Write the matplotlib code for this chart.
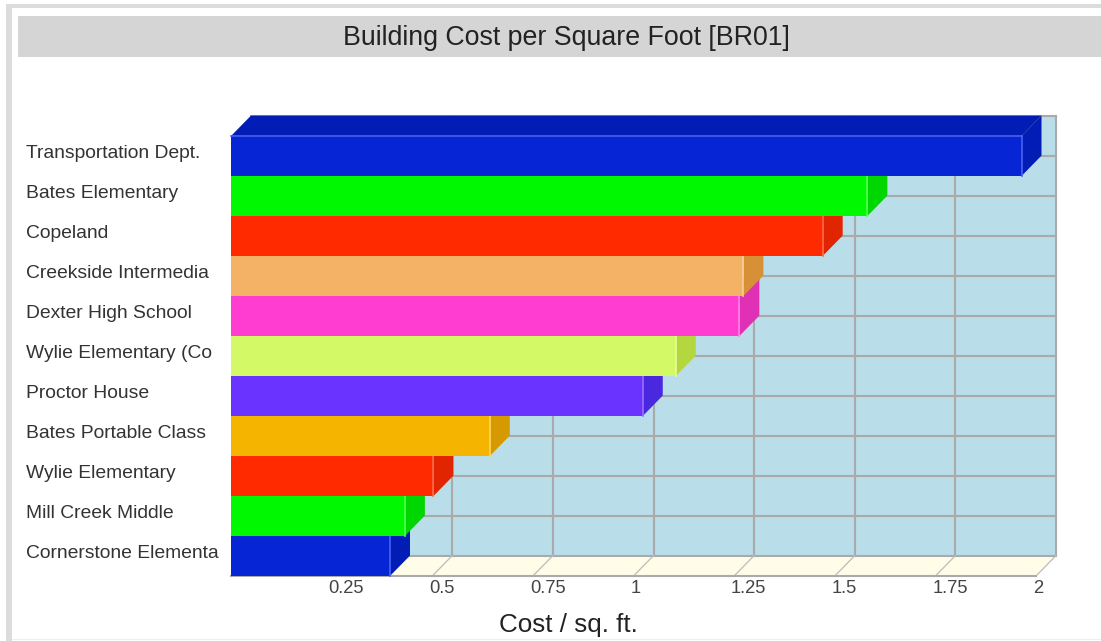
import matplotlib
matplotlib.use("Agg")
import matplotlib.pyplot as plt
from matplotlib.patches import Polygon, Rectangle

plt.rcParams["font.family"] = ["Liberation Sans", "DejaVu Sans"]

W, H = 1101, 641

labels = ["Transportation Dept.", "Bates Elementary", "Copeland", "Creekside Intermedia",
          "Dexter High School", "Wylie Elementary (Co", "Proctor House", "Bates Portable Class",
          "Wylie Elementary", "Mill Creek Middle", "Cornerstone Elementa"]
values = [1.964, 1.581, 1.47, 1.273, 1.263, 1.105, 1.023, 0.643, 0.503, 0.432, 0.395]
front_colors = ["#0626d6", "#00f900", "#ff2a00", "#f4b266", "#ff3dd0", "#d3f966",
                "#6a33ff", "#f5b400", "#ff2a00", "#00f900", "#0626d6"]
side_colors = ["#021db5", "#00d600", "#e02500", "#d69035", "#e030b5", "#b4d63f",
               "#4a28e0", "#d69a00", "#e02500", "#00d600", "#021db5"]
edge_colors = ["#4a62ee", "#55ff55", "#ff6a4a", "#f9d09a", "#ff80e2", "#e6ff9a",
               "#9a70ff", "#ffd860", "#ff6a4a", "#55ff55", "#4a62ee"]
xticks = [0.25, 0.5, 0.75, 1, 1.25, 1.5, 1.75, 2]
xticklabels = ["0.25", "0.5", "0.75", "1", "1.25", "1.5", "1.75", "2"]

fig = plt.figure(figsize=(W / 100, H / 100), dpi=100, facecolor="white")


def px_rect(x0, y0, x1, y1, color):
    # rectangle given in image pixels, y going down
    fig.add_artist(Rectangle((x0 / W, 1 - y1 / H), (x1 - x0) / W, (y1 - y0) / H,
                             transform=fig.transFigure, color=color, lw=0))


# page frame and title band
px_rect(6, 4, 1101, 8, "#dcdcdc")
px_rect(6, 4, 12, 641, "#dcdcdc")
px_rect(12, 639, 1101, 640, "#eeeeee")
px_rect(18, 16, 1101, 57, "#d5d5d5")
fig.text(566.5 / W, 1 - 38 / H, "Building Cost per Square Foot [BR01]", ha="center", va="center",
         fontsize=19.3, color="#222222")

ax = fig.add_axes([231 / W, 1 - 576 / H, 805 / W, 440 / H])
ax.set_xlim(0, 2)
ax.set_ylim(len(values), 0)
ax.axis("off")

dx = 20 / 402.5  # depth of the 3d effect in x units
dy = 0.51        # and in rows
n = len(values)
grid = "#aaaaaa"

# back wall and floor
ax.add_patch(Polygon([(dx, -dy), (2 + dx, -dy), (2 + dx, n - dy), (dx, n - dy)],
                     fc="#b9dde9", ec="none", clip_on=False, zorder=1))
ax.add_patch(Polygon([(0, n), (2, n), (2 + dx, n - dy), (dx, n - dy)],
                     fc="#fffde8", ec="none", clip_on=False, zorder=1))

for i in range(n + 1):
    ax.plot([dx, 2 + dx], [i - dy, i - dy], color=grid, lw=1.5, clip_on=False, zorder=2)
for t in xticks:
    ax.plot([t + dx, t + dx], [-dy, n - dy], color=grid, lw=1.5, clip_on=False, zorder=2)
    ax.plot([t, t + dx], [n, n - dy], color="#bbbbbb", lw=0.9, clip_on=False, zorder=2)
ax.plot([0, 2], [n, n], color=grid, lw=1.5, clip_on=False, zorder=2)

# bars, bottom row first so upper bars cover the depth of the lower ones
for i in range(n - 1, -1, -1):
    v = values[i]
    z = 3 + (n - i)
    ax.add_patch(Polygon([(0, i), (dx, i - dy), (v + dx, i - dy), (v, i)],
                         fc=side_colors[i], ec="none", clip_on=False, zorder=z))
    ax.add_patch(Polygon([(v, i), (v + dx, i - dy), (v + dx, i + 1 - dy), (v, i + 1)],
                         fc=side_colors[i], ec="none", clip_on=False, zorder=z))
    ax.barh(i + 0.5, v, height=1, color=front_colors[i], edgecolor="none", clip_on=False, zorder=z)
    ax.plot([v, v], [i, i + 1], color=edge_colors[i], lw=1.2, clip_on=False, zorder=z)
    if i == 0:
        ax.plot([0, v], [i, i], color=edge_colors[i], lw=1.2, clip_on=False, zorder=z)

# category labels sit left of the front plane
for i, name in enumerate(labels):
    ax.text((26 - 231) / 402.5, i + 0.44, name, ha="left", va="center", fontsize=13.9,
            color="#333333", clip_on=False)

for t, s in zip(xticks, xticklabels):
    ax.text(t - 3 / 402.5, n + 0.32, s, ha="left", va="center", fontsize=13.2,
            color="#444444", clip_on=False)

fig.text(568 / W, 1 - 625 / H, "Cost / sq. ft.", ha="center", va="center", fontsize=18.7,
         color="#222222")

fig.savefig("out.png", dpi=100)
